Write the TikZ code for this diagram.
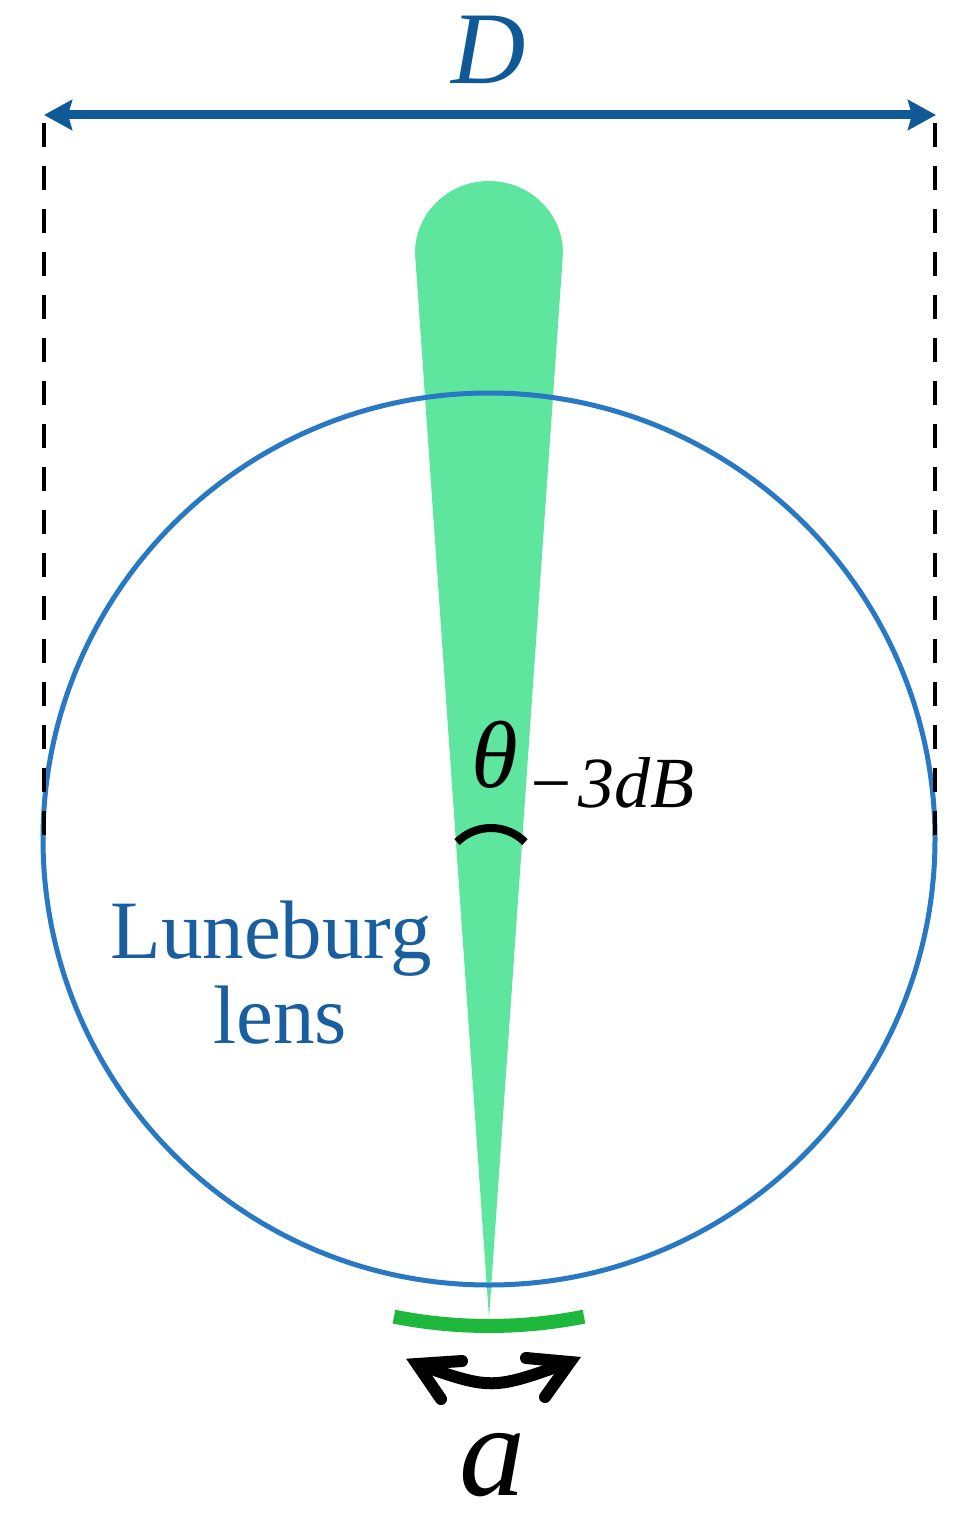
\documentclass[tikz,border=0pt]{standalone}
\usepackage{fontspec}
\newfontfamily\lensfont{Liberation Serif}
\newfontfamily\symfont{Liberation Serif}
\usetikzlibrary{arrows.meta}
\definecolor{dblue}{RGB}{15,90,150}
\definecolor{lensblue}{RGB}{40,120,195}
\definecolor{txtblue}{RGB}{25,95,160}
\definecolor{beamgreen}{RGB}{94,230,158}
\definecolor{bargreen}{RGB}{30,185,60}
\tikzset{
  dimline/.style={black,line width=4pt,dash pattern=on 24pt off 19pt},
  barb/.style={black,line width=12pt,line cap=round,line join=miter},
}
\begin{document}
\begin{tikzpicture}[x=1pt,y=1pt]
\useasboundingbox (0,0) rectangle (962,-1522);
% beam
\fill[beamgreen] (489,-1318) -- (415,-253) arc[start angle=180,end angle=0,x radius=74,y radius=72] -- cycle;
% lens
\coordinate (c) at (489,-839);
\draw[lensblue,line width=5pt] (c) circle[radius=446];
% dashed dimension lines
\coordinate (l1) at (44,-123); \coordinate (l2) at (44,-840);
\coordinate (r1) at (935,-123); \coordinate (r2) at (935,-840);
\draw[dimline] (l1) -- (l2);
\draw[dimline] (r1) -- (r2);
% D arrow
\coordinate (dl) at (44,-115); \coordinate (dr) at (936,-115);
\draw[dblue,line width=9pt,{Stealth[length=28pt,width=30pt,inset=4pt]}-{Stealth[length=28pt,width=30pt,inset=4pt]}] (dl) -- (dr);
\node[dblue,font=\symfont\itshape\fontsize{103}{103}\selectfont] (D) at (489,-50) {D};
% theta
\draw[black,line width=8pt] (491,-876) ++(45:48) arc[start angle=45,end angle=135,radius=48];
\node[anchor=base,inner sep=0pt,font=\symfont\itshape\fontsize{95}{95}\selectfont] (th) at (495,-787) {θ};
\node[anchor=base west,inner sep=0pt,font=\symfont\itshape\fontsize{72}{72}\selectfont] (sub) at (526,-807) {−\kern4pt 3dB};
% label
\node[anchor=base,inner sep=0pt,txtblue,font=\lensfont\fontsize{83}{83}\selectfont] (lun) at (271,-958) {Luneburg};
\node[anchor=base,inner sep=0pt,txtblue,font=\lensfont\fontsize{83}{83}\selectfont] (lens) at (280,-1043) {lens};
% feed bar
\draw[bargreen,line width=14pt] (c) ++(258.75:487) arc[start angle=258.75,end angle=281.25,radius=487];
% aperture arrow
\coordinate (al) at (417,-1364); \coordinate (ar) at (570,-1362);
\draw[black,line width=12pt] (al) .. controls (492,-1390) .. (ar);
\draw[barb] (462,-1361) -- (al) -- (441,-1399);
\draw[barb] (526,-1358) -- (ar) -- (545,-1397);
\node[anchor=base,inner sep=0pt,text depth=0pt,font=\symfont\itshape\fontsize{132}{132}\selectfont] (a) at (492,-1495) {a};
\end{tikzpicture}
\end{document}
